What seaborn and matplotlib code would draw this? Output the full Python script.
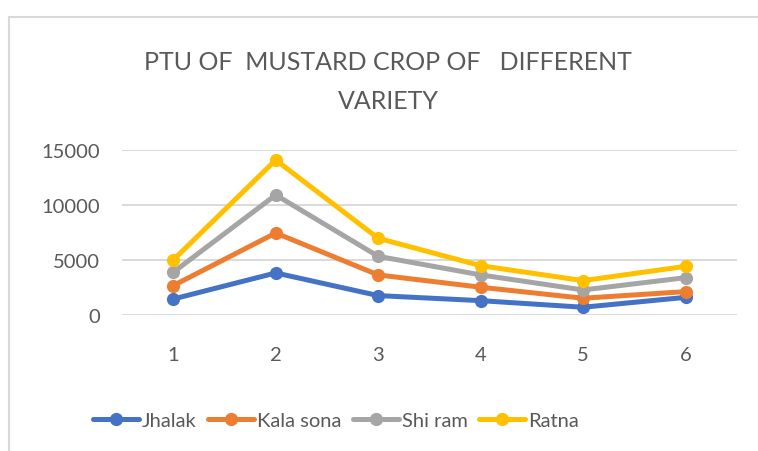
import pandas as pd
import matplotlib
matplotlib.use("Agg")
import matplotlib.pyplot as plt
import seaborn as sns
from matplotlib.lines import Line2D
from matplotlib.patches import Rectangle

# values (stacked line totals)
stages = [1, 2, 3, 4, 5, 6]
jhalak = [1450, 3820, 1760, 1300, 700, 1600]
kala_sona = [2670, 7450, 3640, 2520, 1520, 2120]
shi_ram = [3880, 10910, 5330, 3640, 2270, 3390]
ratna = [5000, 14090, 6970, 4480, 3120, 4420]
varieties = ["Jhalak", "Kala sona", "Shi ram", "Ratna"]
colors = ["#4472C4", "#ED7D31", "#A5A5A5", "#FFC000"]

df = pd.DataFrame({
    "stage": stages * 4,
    "ptu": jhalak + kala_sona + shi_ram + ratna,
    "variety": [v for v in varieties for _ in stages],
})

sns.set_theme(style="white")
plt.rcParams['font.family'] = ['Lato', 'DejaVu Sans']
txt = "#595959"

fig = plt.figure(figsize=(7.58, 4.52), dpi=100)
ax = fig.add_axes([0.161, 0.301, 0.811, 0.365])

sns.lineplot(data=df, x="stage", y="ptu", hue="variety", hue_order=varieties,
             palette=colors, marker="o", markersize=9.5, markeredgewidth=0,
             linewidth=3.6, ax=ax, legend=False)

ax.set_xlim(0.5, 6.5)
ax.set_ylim(0, 15000)
ax.set_xticks(stages)
ax.set_yticks([0, 5000, 10000, 15000])
ax.set_xlabel("")
ax.set_ylabel("")
ax.grid(axis="y", color="#D9D9D9", linewidth=1.4)
ax.set_axisbelow(True)
for s in ax.spines.values():
    s.set_visible(False)
ax.tick_params(axis="x", length=0, pad=22, labelsize=14.5, labelcolor=txt)
ax.tick_params(axis="y", length=0, pad=16, labelsize=14.5, labelcolor=txt)

fig.text(0.512, 0.819, "PTU OF  MUSTARD CROP OF   DIFFERENT\nVARIETY",
         ha="center", va="center", fontsize=18, color=txt, linespacing=1.85)

handles = [Line2D([0], [0], color=c, linewidth=3.6, marker="o", markersize=9.5,
                  markeredgewidth=0) for c in colors]
fig.legend(handles, varieties, loc="center", bbox_to_anchor=(0.443, 1 - 421 / 452),
           ncol=4, frameon=False, fontsize=14.5, labelcolor=txt,
           handlelength=2.3, handletextpad=0.15, columnspacing=0.55)

fig.add_artist(Rectangle((9 / 758, -0.1), 1.2, 1 - 18 / 452 + 0.1,
                         transform=fig.transFigure, fill=False,
                         edgecolor="#D9D9D9", linewidth=1.5))

fig.savefig("out.png", dpi=100)
